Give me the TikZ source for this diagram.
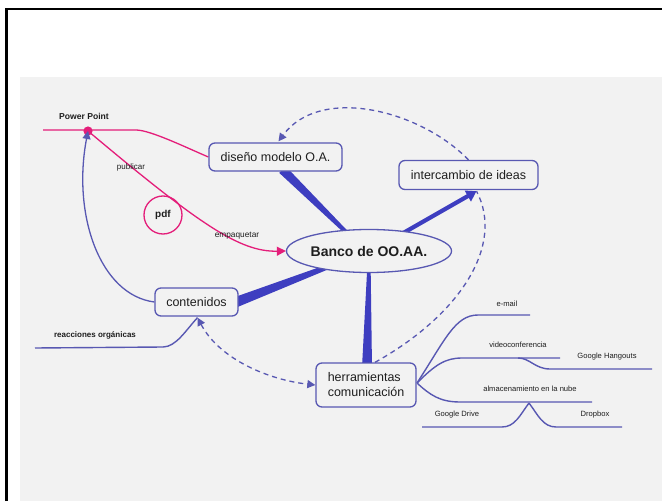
\documentclass[tikz,border=0pt]{standalone}
\usepackage{fontspec}
\setmainfont{Liberation Sans}
\usetikzlibrary{shapes.geometric,arrows.meta,calc}
\definecolor{bgc}{HTML}{F2F2F2}
\definecolor{boxc}{RGB}{88,88,178}
\definecolor{thickc}{RGB}{62,62,192}
\definecolor{pinkc}{RGB}{228,30,122}
\definecolor{textc}{HTML}{1E1E1E}
\pgfdeclarelayer{bglayer}
\pgfdeclarelayer{edgelayer}
\pgfsetlayers{bglayer,edgelayer,main}
\newcommand\taperline[4]{%
  \fill[thickc] ($(#1)!#3!90:(#2)$) -- ($(#2)!#4!-90:(#1)$) -- ($(#2)!#4!90:(#1)$) -- ($(#1)!#3!-90:(#2)$) -- cycle;}
\begin{document}
\begin{tikzpicture}[x=1pt,y=-1pt,
  boxnode/.style={draw=boxc, line width=1.3pt, rounded corners=6pt, fill=bgc,
    text=textc, font=\fontsize{12.5}{15}\selectfont, inner sep=0pt},
  lbl/.style={text=textc, font=\fontsize{7.6}{9}\selectfont, inner sep=0pt},
  blbl/.style={text=textc, font=\bfseries\fontsize{8.6}{10}\selectfont, inner sep=0pt},
  branch/.style={draw=boxc, line width=1.4pt},
  dashconn/.style={draw=boxc, line width=1.3pt, dash pattern=on 5pt off 4pt},
  pinkline/.style={draw=pinkc, line width=1.3pt},
  tipb/.style={-{Triangle[length=8pt,width=8pt]}},
]
\useasboundingbox (0,0) rectangle (662,503);
\begin{pgfonlayer}{bglayer}
  \fill[white] (0,0) rectangle (662,503);
  \fill[bgc] (20,77) rectangle (662,501);
  \draw[line width=2.6pt, black] (6.5,501) -- (6.5,9) -- (662,9);
\end{pgfonlayer}

% nodes
\node[boxnode, minimum width=133pt, minimum height=28pt] (dis) at (275.5,157) {diseño modelo O.A.};
\node[boxnode, minimum width=139pt, minimum height=29pt] (int) at (468.5,175) {intercambio de ideas};
\node[ellipse, draw=boxc, line width=1.3pt, fill=bgc, minimum width=147pt, minimum height=43pt,
      inner sep=0pt, text=textc, font=\bfseries\fontsize{14}{16}\selectfont] (banco) at (369,251) {Banco de OO.AA.};
\node[boxnode, minimum width=83pt, minimum height=28pt] (cont) at (196.5,302) {contenidos};
\node[boxnode, minimum width=100pt, minimum height=44pt, align=left] (herr) at (366,385) {herramientas\\comunicación};
\node[circle, draw=pinkc, line width=1.3pt, minimum size=38pt, inner sep=0pt, text=textc,
      font=\bfseries\fontsize{10}{12}\selectfont] (pdf) at (163,215) {pdf};

% text labels
\node[blbl] (pptext) at (84,116) {Power Point};
\node[blbl, font=\bfseries\fontsize{8}{10}\selectfont] (reac) at (95,335) {reacciones orgánicas};
\node[lbl, font=\fontsize{8}{10}\selectfont] (publ) at (131,167) {publicar};
\node[lbl, font=\fontsize{8.3}{10}\selectfont] (empa) at (237,236) {empaquetar};
\node[lbl] (email) at (507,304) {e-mail};
\node[lbl] (video) at (518,345) {videoconferencia};
\node[lbl] (hang) at (607,357) {Google Hangouts};
\node[lbl] (alma) at (530,389) {almacenamiento en la nube};
\node[lbl] (gdrive) at (457,415) {Google Drive};
\node[lbl] (dropb) at (595,415) {Dropbox};

% coordinates
\coordinate (pp) at (88,131);
\coordinate (ppL) at (43,130);
\coordinate (ppR) at (136,130);
\coordinate (bd1) at ($(banco.center)+(-19,-15)$);
\coordinate (dd1) at ($(dis.south)+(7,-2)$);
\coordinate (bc1) at ($(banco.center)+(-39,15)$);
\coordinate (cc1) at ($(cont.east)+(-5,1)$);
\coordinate (bh1) at ($(banco.center)+(0,14)$);
\coordinate (hh1) at ($(herr.north)+(1,5)$);
\coordinate (bi1) at ($(banco.center)+(29,-15)$);
\coordinate (ii1) at ($(int.south)+(8,1)$);
\coordinate (reacL) at (35,348);
\coordinate (reacR) at (163,347);
\coordinate (contb) at ($(cont.south)+(1,1)$);
\coordinate (hs) at (417,383);
\coordinate (emA) at (478,315);
\coordinate (emB) at (530,315);
\coordinate (viA) at (462,358);
\coordinate (viB) at (560,358);
\coordinate (hgS) at (518,358);
\coordinate (hgA) at (550,369);
\coordinate (hgB) at (652,369);
\coordinate (alA) at (460,402);
\coordinate (alB) at (592,402);
\coordinate (alS) at (529,403);
\coordinate (gdA) at (502,427);
\coordinate (gdB) at (422,427);
\coordinate (dbA) at (556,427);
\coordinate (dbB) at (622,427);
\coordinate (herrtop) at ($(herr.north)+(9,0)$);
\coordinate (distop) at ($(dis.north)+(3,-1)$);

\begin{pgfonlayer}{edgelayer}
  % thick tapered connectors
  \taperline{bd1}{dd1}{1.8pt}{4.6pt}
  \taperline{bc1}{cc1}{2.4pt}{5.2pt}
  \taperline{bh1}{hh1}{1.6pt}{5pt}
  \draw[thickc, line width=4.2pt, -{Triangle[length=10pt,width=12pt]}] (bi1) -- (ii1);

  % pink
  \draw[pinkline] (ppL) -- (ppR) .. controls (150,130) and (185,147) .. (dis.west);
  \draw[pinkline, -{Triangle[length=9pt,width=9pt]}] (pp) .. controls (200,225) and (240,252) .. (banco.west);
  \fill[pinkc] (pp) circle[radius=4.6pt];

  % blue curve to Power Point
  \draw[boxc, line width=1.3pt, tipb] (cont.west) .. controls (100,295) and (72,215) .. (pp);

  % reacciones organicas
  \draw[branch] (reacL) -- (reacR) .. controls (176,347) and (186,330) .. (contb);

  % dashed connectors
  \draw[dashconn, tipb] (int.north) .. controls (420,110) and (320,85) .. (distop);
  \draw[dashconn] (herrtop) .. controls (460,315) and (505,245) .. (ii1);
  \draw[dashconn, {Triangle[length=8pt,width=8pt]}-{Triangle[length=8pt,width=8pt]}] (contb) .. controls (220,360) and (270,380) .. (herr.west);

  % herramientas branches
  \draw[branch] (hs) .. controls (445,340) and (455,315) .. (emA) -- (emB);
  \draw[branch] (hs) .. controls (435,365) and (445,358) .. (viA) -- (viB);
  \draw[branch] (hgS) .. controls (530,358) and (535,369) .. (hgA) -- (hgB);
  \draw[branch] (hs) .. controls (430,395) and (440,402) .. (alA) -- (alB);
  \draw[branch] (alS) .. controls (520,415) and (515,427) .. (gdA) -- (gdB);
  \draw[branch] (alS) .. controls (538,415) and (543,427) .. (dbA) -- (dbB);
\end{pgfonlayer}
\end{tikzpicture}
\end{document}
